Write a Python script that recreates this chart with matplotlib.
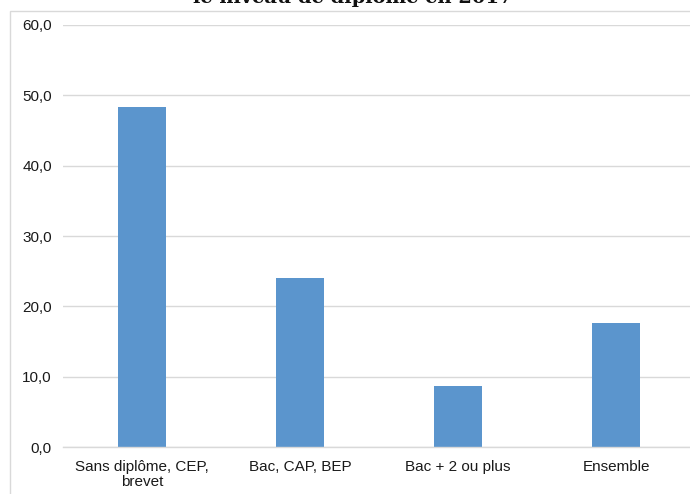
import matplotlib
matplotlib.use("Agg")
import matplotlib.pyplot as plt
from matplotlib.patches import Rectangle

categories = ["Sans diplôme, CEP,\nbrevet", "Bac, CAP, BEP", "Bac + 2 ou plus", "Ensemble"]
values = [48.3, 24.0, 8.7, 17.7]
yticks = [0, 10, 20, 30, 40, 50, 60]
ytick_labels = ["0,0", "10,0", "20,0", "30,0", "40,0", "50,0", "60,0"]
title = "le niveau de diplôme en 2017"

W, H = 690, 494
fig = plt.figure(figsize=(W / 100, H / 100), dpi=100)
fig.patch.set_facecolor("white")

# chart frame
fig.patches.append(Rectangle((10 / W, -0.1), 1.2, (H - 11) / H + 0.1,
                             transform=fig.transFigure, fill=False,
                             edgecolor="#d9d9d9", linewidth=1.0))

# title, mostly above the top edge
fig.text(353 / W, 1 - 3 / H, title, ha="center", va="baseline",
         fontsize=14, fontweight="bold", family="DejaVu Serif", color="#111111")

left, right = 63 / W, 695 / W
bottom, top = 1 - 447 / H, 1 - 25 / H
ax = fig.add_axes([left, bottom, right - left, top - bottom])

x = range(len(categories))
ax.bar(x, values, width=0.31, color="#5b95cd", zorder=3)

ax.set_xlim(-0.5, len(categories) - 0.5)
ax.set_ylim(0, 60)
ax.set_yticks(yticks)
ax.set_yticklabels(ytick_labels)
ax.set_xticks(list(x))
ax.set_xticklabels(categories, linespacing=1.15)

for lbl in ax.get_xticklabels() + ax.get_yticklabels():
    lbl.set_family("Liberation Sans")
    lbl.set_fontsize(11)
    lbl.set_color("#1a1a1a")

ax.tick_params(axis="y", length=0, pad=8)
ax.tick_params(axis="x", length=0, pad=9)
ax.grid(axis="y", color="#d9d9d9", linewidth=1.0, zorder=0)
for s in ["top", "right", "left"]:
    ax.spines[s].set_visible(False)
ax.spines["bottom"].set_color("#d9d9d9")
ax.spines["bottom"].set_linewidth(1.0)
ax.spines["bottom"].set_zorder(4)
ax.set_facecolor("white")

fig.savefig("out.png", dpi=100)
